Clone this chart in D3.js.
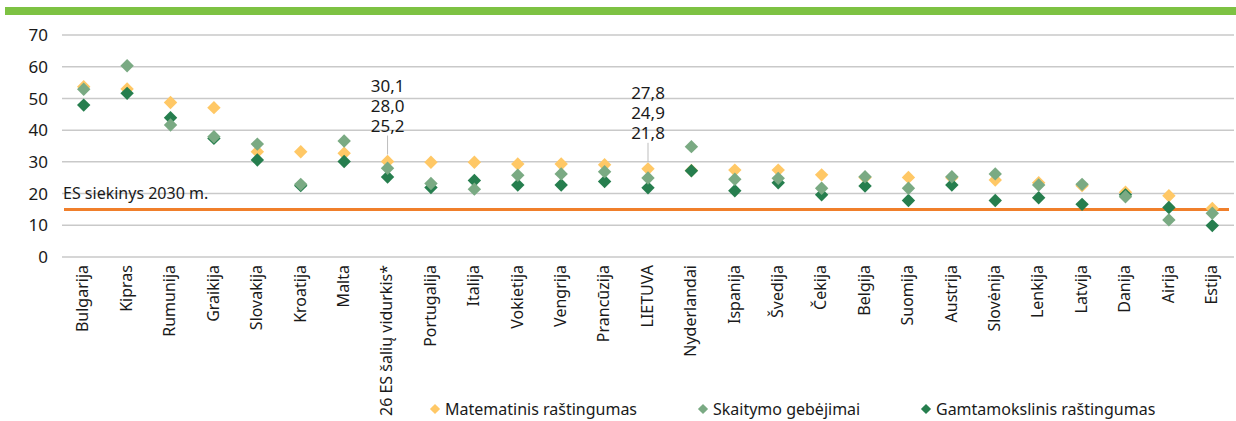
<!DOCTYPE html>
<html>
<head>
<meta charset="utf-8">
<script src="https://cdn.jsdelivr.net/npm/d3@7"></script>
<style>
  body { margin: 0; background: #fff; }
  svg text { font-family: "Noto Sans", "Open Sans", sans-serif; fill: #1a1a1a; }
</style>
</head>
<body>
<div id="chart"></div>
<script>
const countries = ["Bulgarija", "Kipras", "Rumunija", "Graikija", "Slovakija", "Kroatija", "Malta",
  "26 ES šalių vidurkis*", "Portugalija", "Italija", "Vokietija", "Vengrija", "Prancūzija", "LIETUVA",
  "Nyderlandai", "Ispanija", "Švedija", "Čekija", "Belgija", "Suomija", "Austrija", "Slovėnija",
  "Lenkija", "Latvija", "Danija", "Airija", "Estija"];

const math = [53.7, 53.0, 48.7, 47.1, 33.2, 33.2, 32.7, 30.1, 29.9, 29.9, 29.3, 29.3, 29.1, 27.8,
  27.3, 27.4, 27.4, 25.9, 25.1, 25.1, 25.0, 24.3, 23.4, 22.5, 20.4, 19.3, 15.3];
const reading = [52.9, 60.3, 41.6, 37.9, 35.6, 22.9, 36.6, 28.0, 23.2, 21.4, 25.8, 26.2, 26.9, 24.9,
  34.8, 24.5, 24.8, 21.7, 25.3, 21.7, 25.3, 26.2, 22.7, 22.9, 19.0, 11.7, 13.8];
const science = [47.9, 51.6, 43.9, 37.4, 30.6, 22.5, 30.1, 25.2, 21.9, 24.1, 22.7, 22.7, 23.8, 21.8,
  27.2, 20.9, 23.4, 19.6, 22.4, 17.8, 22.7, 17.8, 18.7, 16.6, 19.6, 15.6, 9.9];

const yTicks = [0, 10, 20, 30, 40, 50, 60, 70];
const target = 15;
const targetLabel = "ES siekinys 2030 m.";
const labelled = ["26 ES šalių vidurkis*", "LIETUVA"];

const seriesNames = ["Matematinis raštingumas", "Skaitymo gebėjimai", "Gamtamokslinis raštingumas"];
const seriesColors = ["#ffc866", "#7aaa83", "#267e4e"];

////////////////////////////////////////////////////////////////////////////////////

const width = 1236;
const height = 421;

const svg = d3.select("#chart").append("svg")
  .attr("width", width)
  .attr("height", height);

// green band at the top
svg.append("rect")
  .attr("x", 5).attr("y", 7)
  .attr("width", width - 5).attr("height", 8)
  .attr("fill", "#7dc243");

const x = d3.scalePoint().domain(countries).range([62, 1234]).padding(0.5);
const y = d3.scaleLinear().domain([0, 70]).range([257, 35]);

// grid
svg.append("g")
  .selectAll("line")
  .data(yTicks)
  .enter()
  .append("line")
  .attr("x1", 62).attr("x2", 1234)
  .attr("y1", (d) => y(d)).attr("y2", (d) => y(d))
  .style("stroke", "#c9c9c9")
  .style("stroke-width", 1.5);

svg.append("g")
  .selectAll("text")
  .data(yTicks)
  .enter()
  .append("text")
  .attr("x", 48)
  .attr("y", (d) => y(d))
  .attr("dy", "0.36em")
  .attr("text-anchor", "end")
  .style("font-size", "17px")
  .text((d) => d);

// target line
svg.append("line")
  .attr("x1", 64).attr("x2", 1229)
  .attr("y1", y(target)).attr("y2", y(target))
  .style("stroke", "#f07f2b")
  .style("stroke-width", 3);

svg.append("text")
  .attr("x", 63)
  .attr("y", 199)
  .style("font-size", "16px")
  .text(targetLabel);

// category labels
svg.append("g")
  .selectAll("text")
  .data(countries)
  .enter()
  .append("text")
  .attr("transform", (d) => `translate(${x(d) - 1},265) rotate(-90)`)
  .attr("dy", "0.36em")
  .attr("text-anchor", "end")
  .style("font-size", "16px")
  .text((d) => d);

// value labels with leader lines
labelled.forEach((c) => {
  const i = countries.indexOf(c);
  const py = y(math[i]);
  svg.append("line")
    .attr("x1", x(c)).attr("x2", x(c))
    .attr("y1", py - 26).attr("y2", py - 7)
    .style("stroke", "#bdbdbd")
    .style("stroke-width", 1);
  [math[i], reading[i], science[i]].forEach((v, k) => {
    svg.append("text")
      .attr("x", x(c))
      .attr("y", py - 30 - (2 - k) * 20)
      .attr("text-anchor", "middle")
      .style("font-size", "17px")
      .text(d3.format(".1f")(v).replace(".", ","));
  });
});

// markers: yellow, dark green, light green on top
const diamond = d3.symbol().type(d3.symbolSquare).size(90);
const order = [0, 2, 1];
const allSeries = [math, reading, science];

order.forEach((s) => {
  svg.append("g")
    .selectAll("path")
    .data(allSeries[s])
    .enter()
    .append("path")
    .attr("d", diamond)
    .attr("transform", (d, i) => `translate(${x(countries[i])},${y(d)}) rotate(45)`)
    .attr("fill", seriesColors[s]);
});

// legend
const legendX = [435, 703, 926];
const legend = svg.append("g")
  .selectAll("g")
  .data(seriesNames)
  .enter()
  .append("g")
  .attr("transform", (d, i) => `translate(${legendX[i]},409)`);

legend.append("path")
  .attr("d", d3.symbol().type(d3.symbolSquare).size(52))
  .attr("transform", "rotate(45)")
  .attr("fill", (d, i) => seriesColors[i]);

legend.append("text")
  .attr("x", 10)
  .attr("dy", "0.36em")
  .style("font-size", "16px")
  .text((d) => d);
</script>
</body>
</html>
